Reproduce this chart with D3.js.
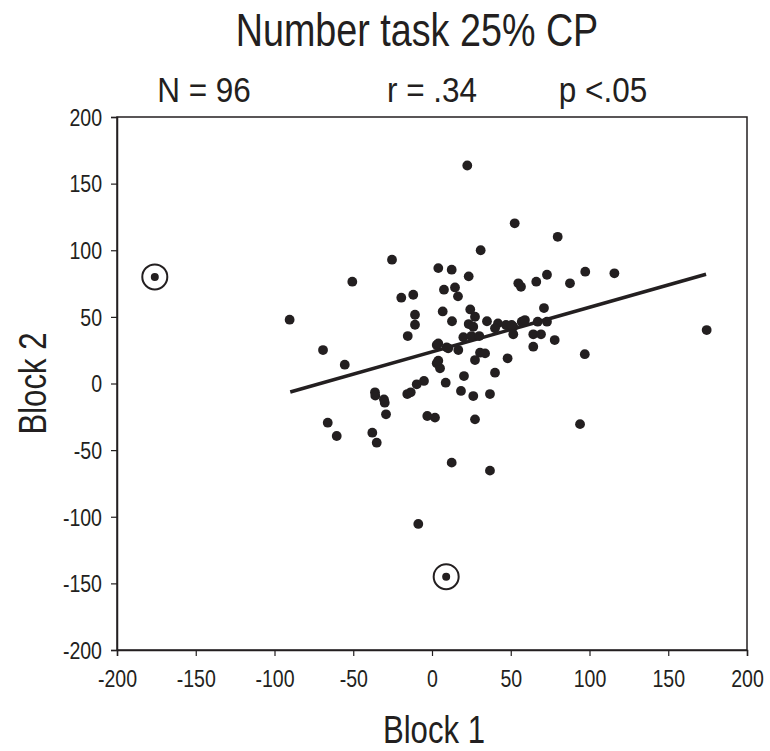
<!DOCTYPE html>
<html>
<head>
<meta charset="utf-8">
<script src="https://cdn.jsdelivr.net/npm/d3@7"></script>
<style>
  body { margin: 0; background: #fff; }
  text { font-family: "Liberation Sans", Arial, sans-serif; fill: #231f20; }
</style>
</head>
<body>
<script>
// values
const block1 = [22.4, 30.9, -25.4, -50.6, 4, 12.5, 23.3, -19.5, -11.9, 7.6, 14.6, 16.5, -90.4, -10.8, -10.8,
  6.8, 12.7, 24.3, 27.3, 23.3, 34.9, 41.9, 47, -15.4, 19.9, 25, 30, -69.2, 3, 52.5, 79.8, 54.8, 56.5, 66.2,
  73, 87.6, 97.3, 115.8, 174.4, 71.1, 51.6, 51.6, 57, 59, 67.1, 73, 64.3, 69.2, 77.9, 64.3, -55.4, 9.3,
  16.7, 3, 5.1, 4, 30.5, 33.7, 27.3, 48, 40, 20.3, 8.7, -5.1, -9.7, -15.7, -13.5, 18.4, 26.2, 36.8, -36.2,
  -36, -30.5, -30, -29.2, -66.2, -60.5, -37.9, -35.1, -3, 1.9, 27.3, 12.5, 36.8, -8.7, 97, 94, 26.2, 40,
  50.6, 4, 10.3];
const block2 = [163.6, 100, 92.9, 76.4, 86.6, 85.4, 80.4, 64.4, 66.6, 70.4, 72.1, 65.4, 47.9, 51.6, 44.1,
  54.1, 46.7, 55.6, 50.1, 44.6, 46.7, 45.1, 43.9, 35.6, 34.7, 35.6, 35.6, 25.1, 28.9, 120.2, 110.1, 75.2,
  72.6, 76.4, 81.6, 75.2, 83.9, 82.7, 40.1, 56.6, 42.6, 36.9, 46.4, 47.6, 46.4, 46.4, 36.9, 36.9, 32.6,
  27.6, 14.1, 27.1, 25.1, 15.2, 11.4, 17.1, 23.1, 22.6, 17.6, 18.9, 8.1, 5.6, 0.6, 1.9, -0.6, -7.9, -6.6,
  -5.6, -9.4, -7.9, -6.6, -9.1, -11.9, -14.4, -23.1, -29.4, -39.4, -36.9, -44.4, -24.4, -25.6, -26.9,
  -59.4, -65.4, -105.4, 22, -30.5, 42.6, 41.4, 43.9, 30.1, 26.4];

// circled outliers
const outlierX = [-176, 9];
const outlierY = [80, -145];

// regression line end points
const trendX = [-90, 174];
const trendY = [-6.4, 82];

const ticks = [-200, -150, -100, -50, 0, 50, 100, 150, 200];

const title = 'Number task 25% CP';
const stats = ['N = 96', 'r = .34', 'p <.05'];
const xLabel = 'Block 1';
const yLabel = 'Block 2';

const width = 770;
const height = 751;
const margin = { top: 117, right: 23, bottom: 101, left: 117 };
const ink = '#231f20';
const narrow = 0.82; // no Arial Narrow here, squeeze the regular face

const svg = d3.select('body').append('svg')
  .attr('width', width)
  .attr('height', height);

const x = d3.scaleLinear()
  .domain([-200, 200])
  .range([margin.left, width - margin.right]);

const y = d3.scaleLinear()
  .domain([-200, 200])
  .range([height - margin.bottom, margin.top]);

// text placed at (tx, ty), squeezed horizontally
function addText(tx, ty, size, str, k, rotate) {
  const rot = rotate ? ` rotate(${rotate})` : '';
  return svg.append('text')
    .attr('transform', `translate(${tx}, ${ty})${rot} scale(${k}, 1)`)
    .attr('text-anchor', 'middle')
    .style('font-size', `${size}px`)
    .text(str);
}

// frame
svg.append('rect')
  .attr('x', x(-200))
  .attr('y', y(200))
  .attr('width', x(200) - x(-200))
  .attr('height', y(-200) - y(200))
  .attr('fill', 'none')
  .attr('stroke', ink)
  .attr('stroke-width', 1.5);

// axes
const xAxis = svg.append('g')
  .attr('transform', `translate(0, ${y(-200)})`)
  .call(d3.axisBottom(x).tickValues(ticks).tickSize(6).tickPadding(14).tickFormat(d => String(d)));

const yAxis = svg.append('g')
  .attr('transform', `translate(${x(-200)}, 0)`)
  .call(d3.axisLeft(y).tickValues(ticks).tickSize(6).tickPadding(9).tickFormat(d => String(d)));

[xAxis, yAxis].forEach(g => {
  g.select('.domain').attr('stroke', ink).attr('stroke-width', 1.5);
  g.selectAll('.tick line').attr('stroke', ink).attr('stroke-width', 1.2);
  g.selectAll('.tick text')
    .style('font-family', '"Liberation Sans", Arial, sans-serif')
    .style('font-size', '23px')
    .attr('fill', ink)
    .attr('transform', `scale(${narrow + 0.03}, 1)`);
});
xAxis.selectAll('.tick text').attr('dy', '0.75em');
yAxis.selectAll('.tick text')
  .attr('dy', '0.36em')
  .attr('x', -15 / (narrow + 0.03));

// trend line
svg.append('line')
  .attr('x1', x(trendX[0]))
  .attr('y1', y(trendY[0]))
  .attr('x2', x(trendX[1]))
  .attr('y2', y(trendY[1]))
  .attr('stroke', ink)
  .attr('stroke-width', 3.5);

// points
const points = block1.map((d, i) => ({ x: d, y: block2[i] }));
svg.append('g')
  .selectAll('circle')
  .data(points)
  .join('circle')
  .attr('cx', d => x(d.x))
  .attr('cy', d => y(d.y))
  .attr('r', 4.9)
  .attr('fill', ink);

// circled outliers
const outliers = outlierX.map((d, i) => ({ x: d, y: outlierY[i] }));
const og = svg.append('g')
  .selectAll('g')
  .data(outliers)
  .join('g')
  .attr('transform', d => `translate(${x(d.x)}, ${y(d.y)})`);
og.append('circle')
  .attr('r', 12.5)
  .attr('fill', 'none')
  .attr('stroke', ink)
  .attr('stroke-width', 2);
og.append('circle')
  .attr('r', 4)
  .attr('fill', ink);

// texts
addText(417, 46, 46, title, narrow);

const statX = [204, 432, 603];
stats.forEach((s, i) => addText(statX[i], 102, 35, s, 0.9));

addText(434, 743, 38, xLabel, narrow);
addText(46, y(0), 38, yLabel, narrow, -90);
</script>
</body>
</html>
